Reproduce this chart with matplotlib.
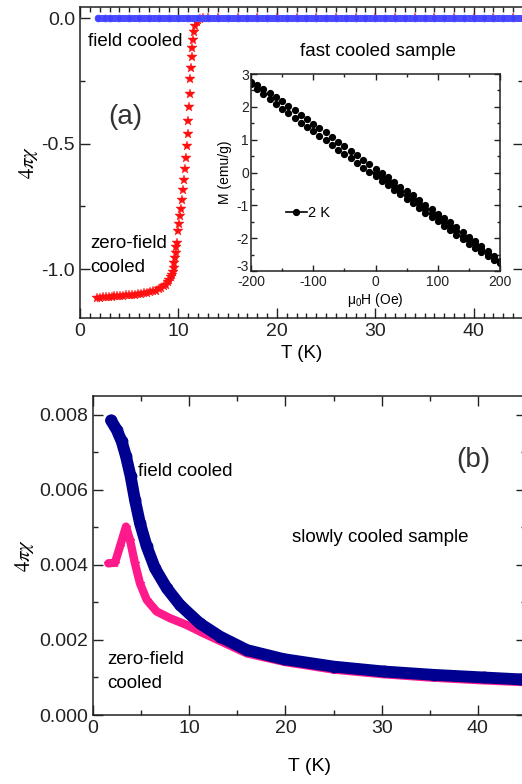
import numpy as np
import matplotlib
matplotlib.use("Agg")
import matplotlib.pyplot as plt
from matplotlib.ticker import MultipleLocator

plt.rcParams['font.family'] = ['Liberation Sans', 'DejaVu Sans']
plt.rcParams['mathtext.fontset'] = 'stix'
plt.rcParams['axes.unicode_minus'] = False

# ---------------- Panel (a): fast cooled sample ----------------
zfc_a_T = [1.7, 2.0, 2.3, 2.6, 2.9, 3.2, 3.5, 3.8, 4.1, 4.4, 4.7, 5.0, 5.3, 5.6, 5.9,
           6.2, 6.5, 6.8, 7.1, 7.4, 7.7, 8.0, 8.25, 8.5, 8.7, 8.9, 9.05, 9.2, 9.3,
           9.4, 9.5, 9.58, 9.65, 9.72, 9.8, 9.88, 9.98, 10.08, 10.19, 10.29, 10.36,
           10.46, 10.56, 10.63, 10.76, 10.83, 10.93, 11.0, 11.07, 11.13, 11.2, 11.27,
           11.34, 11.4, 11.5, 11.6, 11.72, 11.85, 12.0, 12.2, 12.5, 13.0, 14.0,
           16.0, 18.0, 20.0, 22.0, 24.0, 26.0, 28.0, 30.0, 32.0, 34.0, 36.0, 38.0,
           40.0, 42.0, 44.0, 46.0]
zfc_a_chi = [-1.115, -1.114, -1.113, -1.112, -1.111, -1.110, -1.109, -1.108, -1.107,
             -1.106, -1.105, -1.104, -1.103, -1.102, -1.100, -1.099, -1.097, -1.095,
             -1.092, -1.089, -1.086, -1.081, -1.076, -1.069, -1.062, -1.053, -1.044,
             -1.033, -1.022, -1.010, -0.995, -0.975, -0.955, -0.935, -0.912, -0.895,
             -0.848, -0.820, -0.790, -0.759, -0.724, -0.685, -0.644, -0.600, -0.557,
             -0.510, -0.460, -0.410, -0.355, -0.300, -0.244, -0.197, -0.155, -0.117,
             -0.085, -0.055, -0.030, -0.015, -0.006, -0.002, 0.0, 0.0, 0.0,
             0.0, 0.0, 0.0, 0.0, 0.0, 0.0, 0.0, 0.0, 0.0, 0.0, 0.0, 0.0,
             0.0, 0.0, 0.0, 0.0]

fc_a_T = [1.8, 2.5, 3.0, 4.0, 5.0, 6.0, 7.0, 8.0, 9.0, 10.0, 11.0, 12.0, 13.0, 14.0,
          15.0, 16.0, 17.0, 18.0, 19.0, 20.0, 21.0, 22.0, 23.0, 24.0, 25.0, 26.0,
          27.0, 28.0, 29.0, 30.0, 31.0, 32.0, 33.0, 34.0, 35.0, 36.0, 37.0, 38.0,
          39.0, 40.0, 41.0, 42.0, 43.0, 44.0, 45.0, 46.0]
fc_a_chi = [0.0] * len(fc_a_T)

# ---------------- Inset: M(H) at 2 K ----------------
H_field = list(range(-200, 201, 10))
M_upper = [2.77, 2.66, 2.55, 2.43, 2.30, 2.18, 2.04, 1.90, 1.76, 1.63, 1.49, 1.35,
           1.22, 1.08, 0.94, 0.81, 0.67, 0.53, 0.39, 0.26, 0.12, -0.02, -0.15, -0.29,
           -0.43, -0.57, -0.70, -0.84, -0.98, -1.11, -1.25, -1.39, -1.52, -1.66,
           -1.81, -1.95, -2.09, -2.25, -2.39, -2.54, -2.70]
M_lower = [2.70, 2.54, 2.39, 2.23, 2.08, 1.94, 1.80, 1.66, 1.52, 1.39, 1.25, 1.11,
           0.98, 0.84, 0.70, 0.57, 0.43, 0.29, 0.15, 0.02, -0.12, -0.26, -0.39, -0.53,
           -0.67, -0.81, -0.94, -1.08, -1.22, -1.35, -1.49, -1.63, -1.76, -1.90,
           -2.03, -2.18, -2.30, -2.43, -2.55, -2.66, -2.77]
H_virgin = list(range(0, 201, 10))
M_virgin = [0.00, -0.14, -0.27, -0.41, -0.55, -0.69, -0.82, -0.96, -1.10, -1.23,
            -1.37, -1.51, -1.64, -1.78, -1.92, -2.06, -2.19, -2.33, -2.47, -2.60, -2.74]
inset_xticks = [-200, -100, 0, 100, 200]
inset_yticks = [-3, -2, -1, 0, 1, 2, 3]

# ---------------- Panel (b): slowly cooled sample ----------------
fc_b_T = [1.87, 2.46, 2.98, 3.43, 3.91, 4.36, 4.88, 5.58, 6.44, 7.66, 9.04, 11.1,
          13.2, 16.0, 19.8, 25.0, 30.2, 35.4, 40.6, 44.4, 46.0]
fc_b_chi = [0.00785, 0.0076, 0.00729, 0.00689, 0.00636, 0.00573, 0.00511, 0.00449,
            0.00391, 0.00338, 0.00293, 0.00244, 0.00209, 0.00173, 0.00149, 0.00129,
            0.00116, 0.00107, 0.00100, 0.00095, 0.00094]
zfc_b_T = [1.6, 2.29, 2.8, 3.43, 3.84, 4.36, 4.88, 5.58, 6.6, 8.0, 9.73, 11.46,
           13.9, 16.0, 20.0, 25.0, 30.0, 35.0, 40.0, 44.5, 46.0]
zfc_b_chi = [0.00404, 0.00406, 0.00449, 0.00502, 0.00467, 0.00404, 0.00351, 0.00307,
             0.00276, 0.00258, 0.0024, 0.00218, 0.00189, 0.00164, 0.00141, 0.00121,
             0.00109, 0.00100, 0.00093, 0.00088, 0.00087]

W, Hpx = 522, 784
fig = plt.figure(figsize=(W / 100, Hpx / 100), dpi=100)

def style(ax, fs=14, major=6, minor=3.5):
    ax.tick_params(which='both', direction='in', top=True, right=True,
                   labelsize=fs, width=1.0, colors='#222222')
    ax.tick_params(which='major', length=major)
    ax.tick_params(which='minor', length=minor)
    for s in ax.spines.values():
        s.set_linewidth(1.1)
        s.set_color('#222222')

# Panel (a)
axa = fig.add_axes([80 / W, 1 - 318 / Hpx, 443 / W, 311 / Hpx])
axa.plot(zfc_a_T, zfc_a_chi, linestyle='none', marker='*', markersize=7.5,
         color='#ff1010', markeredgewidth=0.3, zorder=2)
axa.plot(fc_a_T, fc_a_chi, '-', color='#4848ff', lw=5, solid_capstyle='round', zorder=3)
axa.plot(fc_a_T, fc_a_chi, linestyle='none', marker='o', markersize=5,
         color='#4040ff', markeredgecolor='#5a5aff', markeredgewidth=0.5, zorder=4)
axa.set_xlim(0, 45)
axa.set_ylim(-1.195, 0.045)
axa.xaxis.set_major_locator(MultipleLocator(10))
axa.xaxis.set_minor_locator(MultipleLocator(1))
axa.yaxis.set_minor_locator(MultipleLocator(0.25))
axa.set_yticks([0.0, -0.5, -1.0])
axa.set_yticklabels(['0.0', '-0.5', '-1.0'])
style(axa, major=7, minor=3.5)
axa.set_xlabel('T (K)', fontsize=13.5, labelpad=4)
axa.set_ylabel(r'$4\pi\chi$', fontsize=15, labelpad=1)
fig.text(88 / W, 1 - 41 / Hpx, 'field cooled', fontsize=13.5, va='center', ha='left')
fig.text(300 / W, 1 - 51 / Hpx, 'fast cooled sample', fontsize=13.5, va='center', ha='left')
fig.text(108 / W, 1 - 117 / Hpx, '(a)', fontsize=20, va='center', ha='left', color='#333333')
fig.text(90 / W, 1 - 244 / Hpx, 'zero-field', fontsize=13.5, va='center', ha='left')
fig.text(90 / W, 1 - 268 / Hpx, 'cooled', fontsize=13.5, va='center', ha='left')

# Inset
axi = fig.add_axes([251 / W, 1 - 271 / Hpx, 249 / W, 197 / Hpx])
axi.plot(H_field, M_upper, linestyle='none', marker='o', markersize=4.2, color='black')
axi.plot(H_field, M_lower, linestyle='none', marker='o', markersize=4.2, color='black')
axi.plot(H_virgin, M_virgin, linestyle='none', marker='o', markersize=4.2, color='black')
axi.set_xlim(-200, 200)
axi.set_ylim(-3, 3)
axi.set_xticks(inset_xticks)
axi.set_yticks(inset_yticks)
axi.xaxis.set_minor_locator(MultipleLocator(50))
axi.yaxis.set_minor_locator(MultipleLocator(0.5))
style(axi, fs=10, major=4, minor=2.5)
axi.tick_params(axis='x', pad=3)
axi.tick_params(axis='y', pad=1.5)
axi.set_xlabel(r'$\mathregular{\mu_0}$H (Oe)', fontsize=10, labelpad=1)
axi.set_ylabel('M (emu/g)', fontsize=10, labelpad=3)
axi.plot([-200], [10], '-o', color='black', markersize=4.2, lw=1.2, label='2 K')
axi.legend(loc='upper left', bbox_to_anchor=(0.1, 0.38), frameon=False, fontsize=10.5,
           handlelength=1.4, handletextpad=0.1, borderpad=0.2)
fig.canvas.draw()
axi.yaxis.get_major_ticks()[0].label1.set_va('baseline')

# Panel (b)
axb = fig.add_axes([93 / W, 1 - 715 / Hpx, 433 / W, 319 / Hpx])
axb.plot(zfc_b_T, zfc_b_chi, '-', color='#ff1a8c', lw=6, solid_joinstyle='round',
         solid_capstyle='round', zorder=2)
axb.plot(zfc_b_T, zfc_b_chi, linestyle='none', marker='*', markersize=6,
         color='#ff1a8c', zorder=2)
axb.plot(fc_b_T, fc_b_chi, '-', color='#000090', lw=8.5, solid_joinstyle='round',
         solid_capstyle='round', zorder=3)
axb.plot(fc_b_T, fc_b_chi, linestyle='none', marker='o', markersize=7.5,
         color='#000090', markeredgecolor='#000090', zorder=4)
axb.set_xlim(0, 45)
axb.set_ylim(0, 0.0085)
axb.xaxis.set_major_locator(MultipleLocator(10))
axb.xaxis.set_minor_locator(MultipleLocator(5))
axb.yaxis.set_minor_locator(MultipleLocator(0.001))
axb.set_yticks([0, 0.002, 0.004, 0.006, 0.008])
axb.set_yticklabels(['0.000', '0.002', '0.004', '0.006', '0.008'])
style(axb, major=7, minor=3.5)
axb.set_xlabel('T (K)', fontsize=14, labelpad=15)
axb.set_ylabel(r'$4\pi\chi$', fontsize=15, labelpad=2)
fig.text(138 / W, 1 - 472 / Hpx, 'field cooled', fontsize=13.5, va='center', ha='left')
fig.text(456 / W, 1 - 460 / Hpx, '(b)', fontsize=20, va='center', ha='left', color='#333333')
fig.text(292 / W, 1 - 537 / Hpx, 'slowly cooled sample', fontsize=13.5, va='center', ha='left')
fig.text(107 / W, 1 - 660 / Hpx, 'zero-field', fontsize=13.5, va='center', ha='left')
fig.text(107 / W, 1 - 684 / Hpx, 'cooled', fontsize=13.5, va='center', ha='left')

fig.savefig('out.png', dpi=100)
